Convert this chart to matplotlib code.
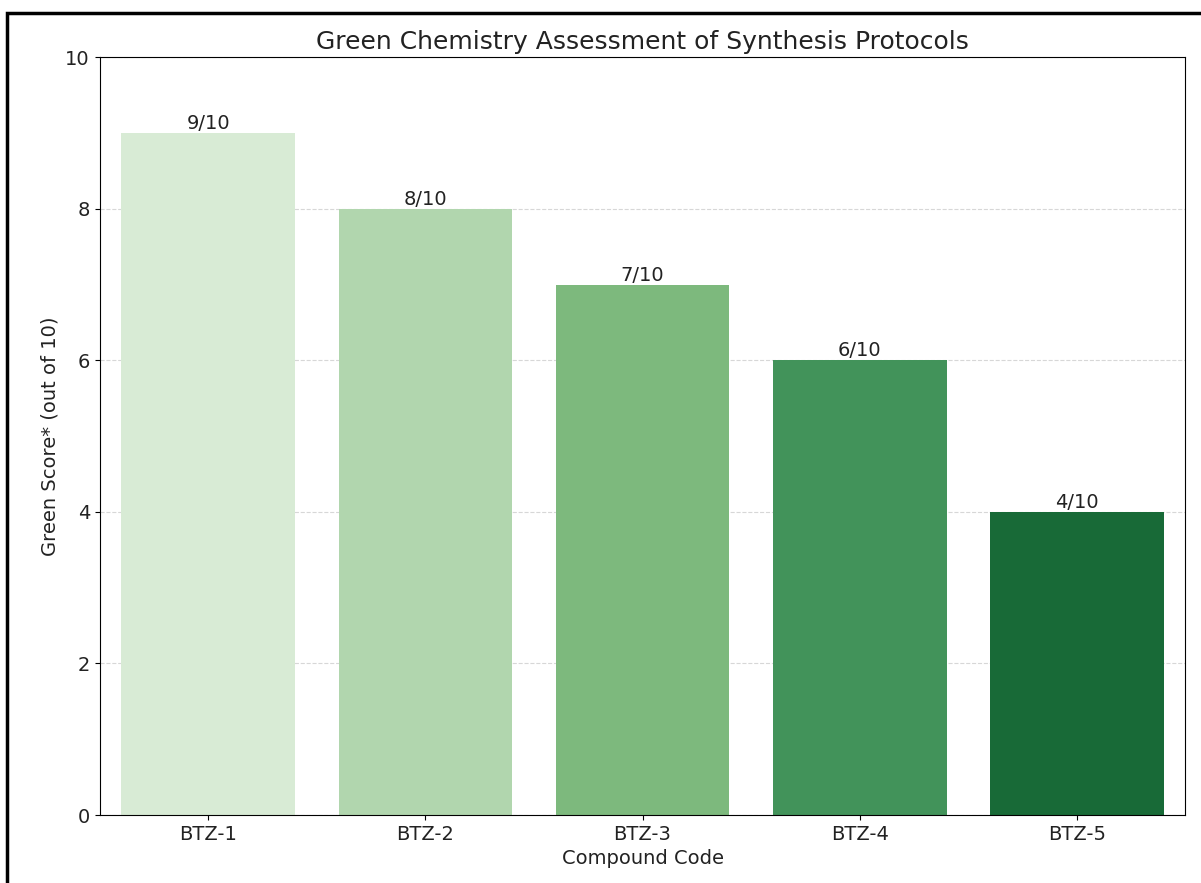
import matplotlib
matplotlib.use("Agg")
import matplotlib.pyplot as plt
from matplotlib.patches import Rectangle

compounds = ["BTZ-1", "BTZ-2", "BTZ-3", "BTZ-4", "BTZ-5"]
scores = [9, 8, 7, 6, 4]
colors = ["#d8ebd5", "#b1d6ae", "#7db97d", "#42935a", "#186a37"]

fig = plt.figure(figsize=(12.01, 8.83), dpi=100)
ax = fig.add_axes([0.083, 0.077, 0.904, 0.858])

bars = ax.bar(compounds, scores, color=colors, width=0.8)
for b, s in zip(bars, scores):
    ax.text(b.get_x() + b.get_width() / 2, b.get_height(), f"{s}/10",
            ha="center", va="bottom", fontsize=14, color="#222222")

ax.set_xlim(-0.5, 4.5)
ax.set_ylim(0, 10)
ax.set_title("Green Chemistry Assessment of Synthesis Protocols", fontsize=18, color="#222222")
ax.set_xlabel("Compound Code", fontsize=14, color="#222222")
ax.set_ylabel("Green Score* (out of 10)", fontsize=14, color="#222222")
ax.tick_params(labelsize=14, labelcolor="#222222")
ax.yaxis.grid(True, linestyle="--", alpha=0.5)
ax.set_axisbelow(True)

# screenshot frame
fig.patches.append(Rectangle((0.006, -0.05), 1.1, 1.035, transform=fig.transFigure,
                             fill=False, edgecolor="black", linewidth=2.5))

plt.savefig("out.png", dpi=100)
